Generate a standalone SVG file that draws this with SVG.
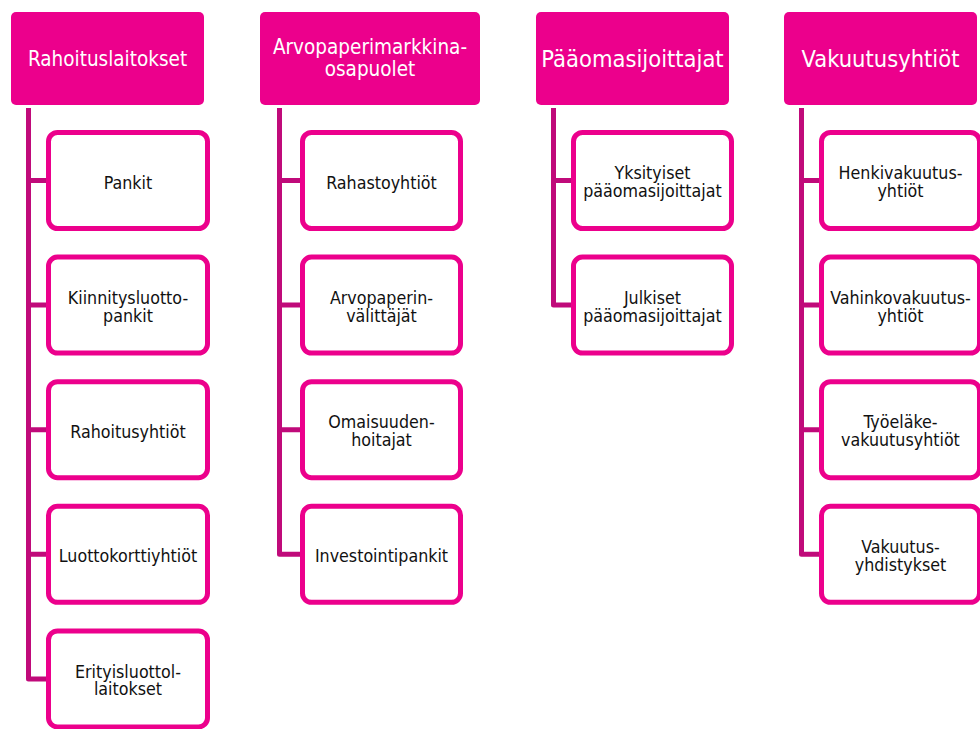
<svg xmlns="http://www.w3.org/2000/svg" width="980" height="729" viewBox="0 0 980 729">
  <style>
    .head rect { fill: #EC008C; }
    .head text { fill: #FFFFFF; font-family: "DejaVu Sans Condensed", "DejaVu Sans", sans-serif; font-stretch: condensed; font-size: 20.5px; text-anchor: middle; }
    .head text.big { font-size: 23.5px; }
    .item rect { fill: #FFFFFF; stroke: #EC008C; stroke-width: 5; }
    .item text { fill: #111111; font-family: "DejaVu Sans Condensed", "DejaVu Sans", sans-serif; font-stretch: condensed; font-size: 17.7px; text-anchor: middle; }
    .links path { fill: none; stroke: #C00A7A; stroke-width: 5; stroke-linejoin: round; }
  </style>

  <!-- tree connectors: one spine per column with a stub to each child -->
  <g id="connectors" class="links">
    <path d="M28.5 108 V679 H47 M28.5 180.5 H47 M28.5 305 H47 M28.5 429.7 H47 M28.5 554.3 H47"/>
    <path d="M279.5 108 V554.3 H301 M279.5 180.5 H301 M279.5 305 H301 M279.5 429.7 H301"/>
    <path d="M553.5 108 V305 H572 M553.5 180.5 H572"/>
    <path d="M801.5 108 V554.3 H820 M801.5 180.5 H820 M801.5 305 H820 M801.5 429.7 H820"/>
  </g>

  <!-- column 1 -->
  <g id="rahoituslaitokset" class="head">
    <rect x="11" y="12" width="193" height="93" rx="5"/>
    <text x="107.5" y="66">Rahoituslaitokset</text>
  </g>
  <g id="pankit" class="item">
    <rect x="48.5" y="132.5" width="159" height="96" rx="9"/>
    <text x="128" y="188.5">Pankit</text>
  </g>
  <g id="kiinnitysluottopankit" class="item">
    <rect x="48.5" y="257.1" width="159" height="96" rx="9"/>
    <text x="128" y="303.8">Kiinnitysluotto-</text>
    <text x="128" y="321.6">pankit</text>
  </g>
  <g id="rahoitusyhtiot" class="item">
    <rect x="48.5" y="381.7" width="159" height="96" rx="9"/>
    <text x="128" y="437.7">Rahoitusyhtiöt</text>
  </g>
  <g id="luottokorttiyhtiot" class="item">
    <rect x="48.5" y="506.3" width="159" height="96" rx="9"/>
    <text x="128" y="562.3">Luottokorttiyhtiöt</text>
  </g>
  <g id="erityisluottolaitokset" class="item">
    <rect x="48.5" y="630.9" width="159" height="96" rx="9"/>
    <text x="128" y="677.6">Erityisluottol-</text>
    <text x="128" y="695.4">laitokset</text>
  </g>

  <!-- column 2 -->
  <g id="arvopaperimarkkinaosapuolet" class="head">
    <rect x="260" y="12" width="220" height="93" rx="5"/>
    <text x="370" y="54">Arvopaperimarkkina-</text>
    <text x="370" y="76">osapuolet</text>
  </g>
  <g id="rahastoyhtiot" class="item">
    <rect x="302.5" y="132.5" width="158" height="96" rx="9"/>
    <text x="381.5" y="188.5">Rahastoyhtiöt</text>
  </g>
  <g id="arvopaperinvalittajat" class="item">
    <rect x="302.5" y="257.1" width="158" height="96" rx="9"/>
    <text x="381.5" y="303.8">Arvopaperin-</text>
    <text x="381.5" y="321.6">välittäjät</text>
  </g>
  <g id="omaisuudenhoitajat" class="item">
    <rect x="302.5" y="381.7" width="158" height="96" rx="9"/>
    <text x="381.5" y="428.4">Omaisuuden-</text>
    <text x="381.5" y="446.2">hoitajat</text>
  </g>
  <g id="investointipankit" class="item">
    <rect x="302.5" y="506.3" width="158" height="96" rx="9"/>
    <text x="381.5" y="562.3">Investointipankit</text>
  </g>

  <!-- column 3 -->
  <g id="paaomasijoittajat" class="head">
    <rect x="536" y="12" width="193" height="93" rx="5"/>
    <text class="big" x="632.5" y="66.7">Pääomasijoittajat</text>
  </g>
  <g id="yksityiset" class="item">
    <rect x="573.5" y="132.5" width="158" height="96" rx="9"/>
    <text x="652.5" y="179.2">Yksityiset</text>
    <text x="652.5" y="197">pääomasijoittajat</text>
  </g>
  <g id="julkiset" class="item">
    <rect x="573.5" y="257.1" width="158" height="96" rx="9"/>
    <text x="652.5" y="303.8">Julkiset</text>
    <text x="652.5" y="321.6">pääomasijoittajat</text>
  </g>

  <!-- column 4 -->
  <g id="vakuutusyhtiot" class="head">
    <rect x="784" y="12" width="193" height="93" rx="5"/>
    <text class="big" x="880.5" y="66.7">Vakuutusyhtiöt</text>
  </g>
  <g id="henkivakuutusyhtiot" class="item">
    <rect x="821.5" y="132.5" width="158" height="96" rx="9"/>
    <text x="900.5" y="179.2">Henkivakuutus-</text>
    <text x="900.5" y="197">yhtiöt</text>
  </g>
  <g id="vahinkovakuutusyhtiot" class="item">
    <rect x="821.5" y="257.1" width="158" height="96" rx="9"/>
    <text x="900.5" y="303.8">Vahinkovakuutus-</text>
    <text x="900.5" y="321.6">yhtiöt</text>
  </g>
  <g id="tyoelakevakuutusyhtiot" class="item">
    <rect x="821.5" y="381.7" width="158" height="96" rx="9"/>
    <text x="900.5" y="428.4">Työeläke-</text>
    <text x="900.5" y="446.2">vakuutusyhtiöt</text>
  </g>
  <g id="vakuutusyhdistykset" class="item">
    <rect x="821.5" y="506.3" width="158" height="96" rx="9"/>
    <text x="900.5" y="553">Vakuutus-</text>
    <text x="900.5" y="570.8">yhdistykset</text>
  </g>
</svg>
